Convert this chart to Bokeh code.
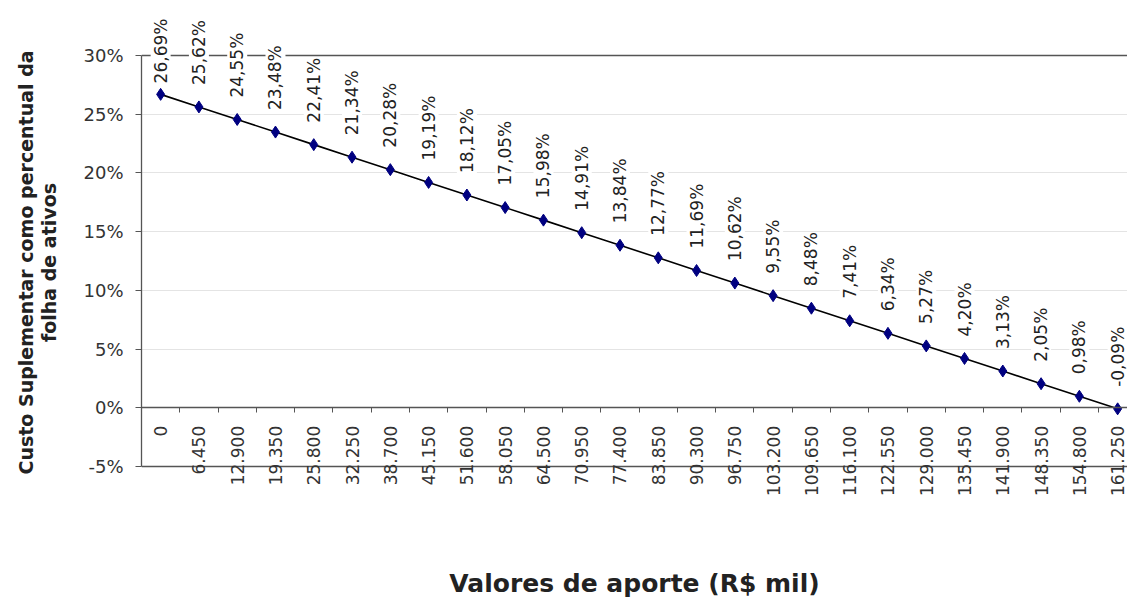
import math
from bokeh.plotting import figure
from bokeh.models import (ColumnDataSource, LabelSet, LinearAxis, Span,
                          FixedTicker, PrintfTickFormatter, Range1d)
from bokeh.core.properties import value
from bokeh.embed import file_html
from bokeh.resources import INLINE

# ---- data ----
aporte_labels = ["0", "6.450", "12.900", "19.350", "25.800", "32.250", "38.700",
                 "45.150", "51.600", "58.050", "64.500", "70.950", "77.400",
                 "83.850", "90.300", "96.750", "103.200", "109.650", "116.100",
                 "122.550", "129.000", "135.450", "141.900", "148.350",
                 "154.800", "161.250"]
custo_pct = [26.69, 25.62, 24.55, 23.48, 22.41, 21.34, 20.28, 19.19, 18.12,
             17.05, 15.98, 14.91, 13.84, 12.77, 11.69, 10.62, 9.55, 8.48,
             7.41, 6.34, 5.27, 4.20, 3.13, 2.05, 0.98, -0.09]
y_ticks = [-5, 0, 5, 10, 15, 20, 25, 30]

n = len(aporte_labels)
xs = list(range(n))
texts = [f"{v:.2f}".replace(".", ",") + "%" for v in custo_pct]
# label gap above the marker (first one is pushed down to stay inside the chart)
offsets = [22] * n
offsets[0] = 11

src = ColumnDataSource(dict(x=xs, y=custo_pct, label=texts, yoff=offsets))

W, H = 1127, 601
FRAME_LEFT = 141
FRAME_BOTTOM = 524
STEP = 38.28           # px per category
PX_PER_PCT = 411 / 35  # px per percentage point
TOP_PX, BOTTOM_PX = 55, 466  # pixel rows of 30% and -5%

x_end = -0.5 + (W - FRAME_LEFT) / STEP
y_top = 30 + TOP_PX / PX_PER_PCT
y_bot = -5 - (FRAME_BOTTOM - BOTTOM_PX) / PX_PER_PCT

p = figure(width=W, height=H, output_backend="svg", toolbar_location=None,
           x_range=Range1d(-0.5, x_end), y_range=Range1d(y_bot, y_top),
           min_border_left=FRAME_LEFT, min_border_right=0, min_border_top=0,
           min_border_bottom=H - FRAME_BOTTOM)
p.outline_line_color = None
p.background_fill_color = "white"
p.border_fill_color = "white"

# grid
p.xgrid.grid_line_color = None
p.ygrid.ticker = FixedTicker(ticks=y_ticks)
p.ygrid.grid_line_color = "#e4e4e4"
p.ygrid.grid_line_width = 1

# dark top and bottom border lines
for loc in (30, -5):
    p.add_layout(Span(location=loc, dimension="width", line_color="#555555",
                      line_width=1.3, level="underlay"))

# x axis at 0%
xa = p.xaxis[0]
xa.fixed_location = 0
xa.ticker = FixedTicker(ticks=xs, minor_ticks=[i - 0.5 for i in range(n + 1)])
xa.major_label_overrides = {i: lab for i, lab in zip(xs, aporte_labels)}
xa.major_label_orientation = math.pi / 2
xa.major_tick_out = 0
xa.major_tick_in = 0
xa.minor_tick_out = 5
xa.minor_tick_in = 0
xa.minor_tick_line_color = "#555555"
xa.axis_line_color = "#555555"
xa.axis_line_width = 1.3
xa.major_label_text_font = "DejaVu Sans"
xa.major_label_text_font_size = "17px"
xa.major_label_text_color = "#333333"
xa.major_label_standoff = 13

# x axis title carried by a bare axis below the plot area
xt = LinearAxis(ticker=FixedTicker(ticks=[]), bounds=(0, n - 1),
                axis_line_color=None, major_tick_line_color=None,
                minor_tick_line_color=None, major_tick_out=0, major_tick_in=0,
                minor_tick_out=0, minor_tick_in=0, major_label_standoff=0,
                axis_label="Valores de aporte (R$ mil)",
                axis_label_text_font="DejaVu Sans",
                axis_label_text_font_style="bold",
                axis_label_text_font_size="25px",
                axis_label_text_color="#222222",
                axis_label_standoff=44)
p.add_layout(xt, "below")

# y axis
ya = p.yaxis[0]
ya.bounds = (-5, 30)
ya.ticker = FixedTicker(ticks=y_ticks)
ya.formatter = PrintfTickFormatter(format="%d%%")
ya.major_tick_out = 6
ya.major_tick_in = 0
ya.minor_tick_line_color = None
ya.axis_line_color = "#555555"
ya.axis_line_width = 1.3
ya.major_tick_line_color = "#555555"
ya.major_label_text_font = "DejaVu Sans"
ya.major_label_text_font_size = "18px"
ya.major_label_text_color = "#333333"
ya.major_label_standoff = 12
ya.axis_label = "Custo Suplementar como percentual da\nfolha de ativos"
ya.axis_label_text_font = "DejaVu Sans"
ya.axis_label_text_font_style = "bold"
ya.axis_label_text_font_size = "19px"
ya.axis_label_text_line_height = 1.05
ya.axis_label_text_color = "#222222"
ya.axis_label_standoff = 20

# series
p.line("x", "y", source=src, line_color="black", line_width=1.6)
p.scatter("x", "y", source=src, marker="diamond", size=12,
          fill_color="#000080", line_color="#000080")

labels = LabelSet(x="x", y="y", text="label", source=src, angle=math.pi / 2,
                  y_offset="yoff", text_align="left", text_baseline="middle",
                  text_font=value("DejaVu Sans"), text_font_size=value("17px"),
                  text_color="#222222", background_fill_color="white")
p.add_layout(labels)

open("out.html", "w").write(file_html(p, INLINE))
